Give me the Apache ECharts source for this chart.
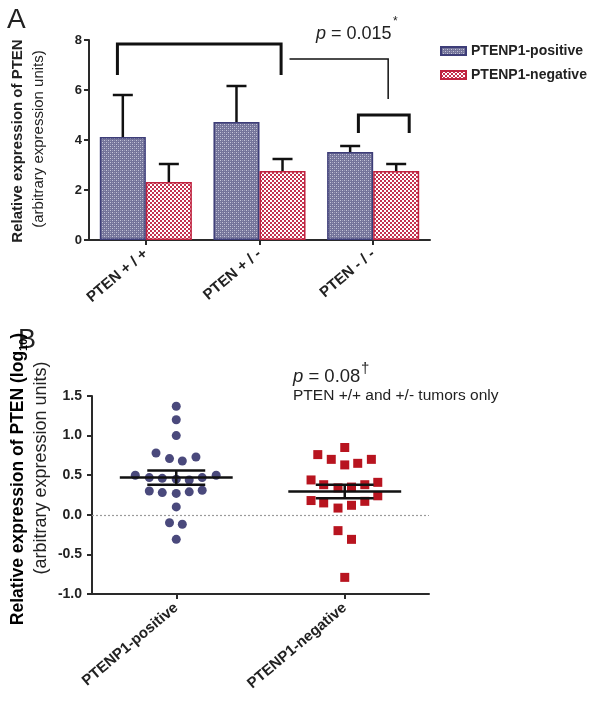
<!DOCTYPE html>
<html><head><meta charset="utf-8">
<script src="https://cdn.jsdelivr.net/npm/echarts@6/dist/echarts.min.js"></script>
<style>html,body{margin:0;padding:0;background:#fff}#c{width:600px;height:706px}</style>
</head><body><div id="c"></div>
<script>
// ---------- Panel A data ----------
const groupsA = ['PTEN + / +', 'PTEN + / -', 'PTEN - / -'];
const seriesNames = ['PTENP1-positive', 'PTENP1-negative'];
const posMeansA = [4.12, 4.72, 3.52];
const posErrA = [1.68, 1.44, 0.24];
const negMeansA = [2.32, 2.76, 2.76];
const negErrA = [0.72, 0.48, 0.28];
// significance brackets (category index + fraction of band, values in data units)
const brStartIdx = [0, 1, 2];
const brStartFrac = [-0.25, 0.264, -0.13];
const brEndIdx = [1, 2, 2];
const brEndFrac = [0.19, 0.132, 0.317];
const brTop = [7.84, 7.24, 5.0];
const brLegLeft = [6.6, 7.24, 4.28];
const brLegRight = [6.6, 5.64, 4.28];

// ---------- Panel B data ----------
const groupsB = ['PTENP1-positive', 'PTENP1-negative'];
const posValsB = [1.37, 1.20, 1.00, 0.78, 0.71, 0.68, 0.73, 0.50, 0.47, 0.46, 0.45, 0.44, 0.47, 0.50, 0.30, 0.28, 0.27, 0.29, 0.31, 0.10, -0.10, -0.12, -0.31];
const posJitterB = [0, 0, 0, -0.12, -0.04, 0.036, 0.117, -0.243, -0.16, -0.083, 0, 0.077, 0.154, 0.237, -0.16, -0.083, 0, 0.077, 0.154, 0, -0.04, 0.036, 0];
const negValsB = [0.85, 0.76, 0.70, 0.63, 0.65, 0.70, 0.44, 0.38, 0.34, 0.35, 0.38, 0.41, 0.18, 0.15, 0.085, 0.12, 0.17, 0.24, -0.20, -0.31, -0.79];
const negJitterB = [0, -0.16, -0.08, 0, 0.077, 0.158, -0.2, -0.125, -0.04, 0.04, 0.119, 0.196, -0.2, -0.125, -0.04, 0.04, 0.119, 0.196, -0.04, 0.04, 0];
const meanB = [0.47, 0.295];
const semB = [0.09, 0.085];

const FONT = 'Arial, "Liberation Sans", sans-serif';
function makePattern(kind) {
  const c = document.createElement('canvas');
  c.width = 4; c.height = 4;
  const g = c.getContext('2d');
  if (kind === 'blue') {
    g.fillStyle = '#74749a'; g.fillRect(0, 0, 4, 4);
    g.fillStyle = '#c6c6da'; g.fillRect(0, 0, 1, 1); g.fillRect(2, 2, 1, 1);
    g.fillStyle = '#9a9ab6'; g.fillRect(2, 0, 1, 1); g.fillRect(0, 2, 1, 1);
  } else {
    g.fillStyle = '#ffffff'; g.fillRect(0, 0, 4, 4);
    g.fillStyle = '#c4324f'; g.fillRect(0, 0, 2, 2); g.fillRect(2, 2, 2, 2);
  }
  return { image: c, repeat: 'repeat' };
}
const blueFill = makePattern('blue');
const redFill = makePattern('red');

const axisLineStyle = { show: true, onZero: false, lineStyle: { color: '#2a2a2a', width: 2 } };
const axisTickStyle = { show: true, length: 5, lineStyle: { color: '#2a2a2a', width: 2 } };

function errRender(sign) {
  return function (params, api) {
    const b = api.coord([api.value(0), api.value(1)]);
    const t = api.coord([api.value(0), api.value(2)]);
    const bw = api.size([1, 0])[0];
    const x = b[0] + sign * bw * 0.2025;
    const st = { stroke: '#111', lineWidth: 2.5 };
    return { type: 'group', children: [
      { type: 'line', shape: { x1: x, y1: b[1], x2: x, y2: t[1] }, style: st },
      { type: 'line', shape: { x1: x - 10, y1: t[1], x2: x + 10, y2: t[1] }, style: st }
    ]};
  };
}

function bracketRender(params, api) {
  const i = params.dataIndex;
  const bw = api.size([1, 0])[0];
  const x1 = api.coord([brStartIdx[i], 0])[0] + brStartFrac[i] * bw;
  const x2 = api.coord([brEndIdx[i], 0])[0] + brEndFrac[i] * bw;
  const yT = api.coord([0, brTop[i]])[1];
  const yL = api.coord([0, brLegLeft[i]])[1];
  const yR = api.coord([0, brLegRight[i]])[1];
  return { type: 'polyline', shape: { points: [[x1, yL], [x1, yT], [x2, yT], [x2, yR]] },
    style: { stroke: '#111', fill: null, lineWidth: i === 1 ? 1.5 : 3, lineJoin: 'miter' } };
}

function meanRender(params, api) {
  const c = api.coord([api.value(0), api.value(1)]);
  const up = api.coord([api.value(0), api.value(1) + api.value(2)])[1];
  const lo = api.coord([api.value(0), api.value(1) - api.value(2)])[1];
  const bw = api.size([1, 0])[0];
  const hm = bw * 0.335, hs = bw * 0.172;
  const st = { stroke: '#111', lineWidth: 2.5 };
  return { type: 'group', children: [
    { type: 'line', shape: { x1: c[0] - hm, y1: c[1], x2: c[0] + hm, y2: c[1] }, style: st },
    { type: 'line', shape: { x1: c[0] - hs, y1: up, x2: c[0] + hs, y2: up }, style: st },
    { type: 'line', shape: { x1: c[0] - hs, y1: lo, x2: c[0] + hs, y2: lo }, style: st },
    { type: 'line', shape: { x1: c[0], y1: up, x2: c[0], y2: lo }, style: st }
  ]};
}

const chart = echarts.init(document.getElementById('c'), null, { renderer: 'canvas' });
chart.setOption({
  animation: false,
  backgroundColor: '#fff',
  textStyle: { fontFamily: FONT },
  grid: [
    { left: 89, top: 40, width: 341, height: 200 },
    { left: 92, top: 396, width: 337, height: 198 }
  ],
  legend: {
    data: seriesNames, orient: 'vertical', left: 440, top: 43, padding: 0, itemWidth: 25, itemHeight: 8, itemGap: 8,
    icon: 'rect',
    textStyle: { fontFamily: FONT, fontWeight: 'bold', fontSize: 14, color: '#222', lineHeight: 16 }
  },
  xAxis: [
    { type: 'category', gridIndex: 0, data: groupsA, axisLine: axisLineStyle,
      axisTick: Object.assign({ alignWithLabel: true }, axisTickStyle),
      axisLabel: { rotate: 40, margin: 12, fontWeight: 'bold', fontSize: 15, color: '#222', fontFamily: FONT },
      splitLine: { show: false } },
    { type: 'category', gridIndex: 1, data: groupsB, axisLine: axisLineStyle,
      axisTick: Object.assign({ alignWithLabel: true }, axisTickStyle),
      axisLabel: { rotate: 40, margin: 12, fontWeight: 'bold', fontSize: 15, color: '#222', fontFamily: FONT },
      splitLine: { show: false } },
    { type: 'value', gridIndex: 1, min: -0.5, max: 1.5, show: false }
  ],
  yAxis: [
    { type: 'value', gridIndex: 0, min: 0, max: 8, interval: 2, axisLine: axisLineStyle, axisTick: axisTickStyle,
      axisLabel: { margin: 7, fontWeight: 'bold', fontSize: 13, color: '#222', fontFamily: FONT },
      splitLine: { show: false } },
    { type: 'value', gridIndex: 1, min: -1, max: 1.5, interval: 0.5, axisLine: axisLineStyle, axisTick: axisTickStyle,
      axisLabel: { margin: 10, fontWeight: 'bold', fontSize: 14, color: '#222', fontFamily: FONT,
        formatter: v => v.toFixed(1) },
      splitLine: { show: false } }
  ],
  series: [
    { name: seriesNames[0], type: 'bar', xAxisIndex: 0, yAxisIndex: 0, data: posMeansA, barWidth: '40.5%', barGap: '0%',
      itemStyle: { color: blueFill, borderColor: '#3d3d78', borderWidth: 1.5 } },
    { name: seriesNames[1], type: 'bar', xAxisIndex: 0, yAxisIndex: 0, data: negMeansA, barWidth: '40.5%', barGap: '0%',
      itemStyle: { color: redFill, borderColor: '#c0223f', borderWidth: 1.5 } },
    { type: 'custom', xAxisIndex: 0, yAxisIndex: 0, z: 4, renderItem: errRender(-1),
      data: posMeansA.map((m, i) => [i, m, m + posErrA[i]]) },
    { type: 'custom', xAxisIndex: 0, yAxisIndex: 0, z: 4, renderItem: errRender(1),
      data: negMeansA.map((m, i) => [i, m, m + negErrA[i]]) },
    { type: 'custom', xAxisIndex: 0, yAxisIndex: 0, z: 4, clip: false, renderItem: bracketRender,
      data: brTop.map((t, i) => [brStartIdx[i], t]) },
    { type: 'scatter', xAxisIndex: 2, yAxisIndex: 1, symbol: 'circle', symbolSize: 9, z: 3,
      itemStyle: { color: '#4a497c', opacity: 1 },
      data: posValsB.map((v, i) => [0 + posJitterB[i], v]),
      markLine: { silent: true, symbol: 'none', label: { show: false },
        lineStyle: { color: '#9a9a9a', type: [2, 2], width: 1.2 }, data: [{ yAxis: 0 }] } },
    { type: 'scatter', xAxisIndex: 2, yAxisIndex: 1, symbol: 'rect', symbolSize: 9, z: 3,
      itemStyle: { color: '#b8141f', opacity: 1 },
      data: negValsB.map((v, i) => [1 + negJitterB[i], v]) },
    { type: 'custom', xAxisIndex: 1, yAxisIndex: 1, z: 5, renderItem: meanRender,
      data: meanB.map((m, i) => [i, m, semB[i]]) }
  ],
  graphic: [
    { type: 'text', x: 7, y: 20, style: { text: 'A', font: '28px ' + FONT, fill: '#222', align: 'left', verticalAlign: 'middle' } },
    { type: 'text', x: 18, y: 341, style: { text: 'B', font: '27px ' + FONT, fill: '#222', align: 'left', verticalAlign: 'middle' } },
    { type: 'text', x: 18, y: 141, rotation: Math.PI / 2,
      style: { text: 'Relative expression of PTEN', font: 'bold 15px ' + FONT, fill: '#222', align: 'center', verticalAlign: 'middle' } },
    { type: 'text', x: 39, y: 139, rotation: Math.PI / 2,
      style: { text: '(arbitrary expression units)', font: '15px ' + FONT, fill: '#222', align: 'center', verticalAlign: 'middle' } },
    { type: 'text', x: 18, y: 479, rotation: Math.PI / 2,
      style: { text: '{t|Relative expression of PTEN (log}{s|10}{t|)}', align: 'center', verticalAlign: 'middle',
        rich: { t: { fontFamily: FONT, fontWeight: 'bold', fontSize: 17.5, color: '#222', lineHeight: 22, verticalAlign: 'middle' },
                s: { fontFamily: FONT, fontWeight: 'bold', fontSize: 11, color: '#222', lineHeight: 11, verticalAlign: 'bottom' } } } },
    { type: 'text', x: 41, y: 468, rotation: Math.PI / 2,
      style: { text: '(arbitrary expression units)', font: '18px ' + FONT, fill: '#222', align: 'center', verticalAlign: 'middle' } },
    { type: 'text', x: 316, y: 34,
      style: { text: '{i|p} = 0.015', align: 'left', verticalAlign: 'middle',
        rich: { i: { fontFamily: FONT, fontStyle: 'italic', fontSize: 18, color: '#222' } },
        font: '18px ' + FONT, fill: '#222' } },
    { type: 'text', x: 393, y: 22, style: { text: '*', font: '12px ' + FONT, fill: '#222', align: 'left', verticalAlign: 'middle' } },
    { type: 'text', x: 293, y: 377,
      style: { text: '{i|p} = 0.08', align: 'left', verticalAlign: 'middle',
        rich: { i: { fontFamily: FONT, fontStyle: 'italic', fontSize: 18.5, color: '#222' } },
        font: '18.5px ' + FONT, fill: '#222' } },
    { type: 'text', x: 361, y: 369, style: { text: '†', font: '15px ' + FONT, fill: '#222', align: 'left', verticalAlign: 'middle' } },
    { type: 'text', x: 293, y: 396,
      style: { text: 'PTEN +/+ and +/- tumors only', font: '15.5px ' + FONT, fill: '#222', align: 'left', verticalAlign: 'middle' } }
  ]
});
</script>
</body></html>
